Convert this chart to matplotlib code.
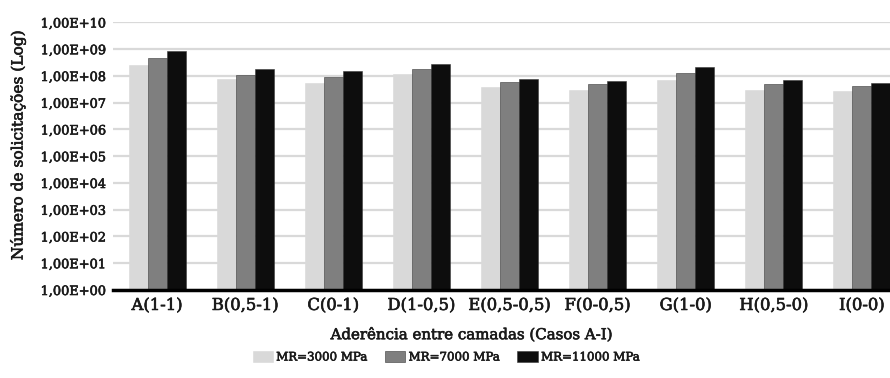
import numpy as np
import matplotlib.pyplot as plt
import matplotlib.patheffects as pe
from matplotlib.ticker import FixedLocator, FuncFormatter, NullLocator

plt.rcParams['font.family'] = ['DejaVu Serif']

# Cases of bond between layers and number of load repetitions for each modulus
casos = ['A(1-1)', 'B(0,5-1)', 'C(0-1)', 'D(1-0,5)', 'E(0,5-0,5)',
         'F(0-0,5)', 'G(1-0)', 'H(0,5-0)', 'I(0-0)']
mr3000 = [2.5e8, 7.6e7, 5.6e7, 1.18e8, 3.9e7, 2.9e7, 7.3e7, 2.9e7, 2.7e7]
mr7000 = [4.8e8, 1.08e8, 9.4e7, 1.9e8, 6.1e7, 5.1e7, 1.33e8, 5.1e7, 4.4e7]
mr11000 = [8.5e8, 1.8e8, 1.5e8, 2.9e8, 7.6e7, 6.5e7, 2.1e8, 7.3e7, 5.6e7]

series = [('MR=3000 MPa', mr3000, '#d9d9d9'),
          ('MR=7000 MPa', mr7000, '#7f7f7f'),
          ('MR=11000 MPa', mr11000, '#0d0d0d')]

# slightly heavier strokes for the text
grosso = [pe.withStroke(linewidth=0.45, foreground='#1a1a1a')]

fig = plt.figure(figsize=(8.9, 3.78), dpi=100)
ax = fig.add_axes([113/890, 0.2328, 0.891, 0.7077])

x = np.arange(len(casos))
w = 0.216
for k, (nome, vals, cor) in enumerate(series):
    ax.bar(x + (k - 1) * w, vals, w, color=cor, label=nome,
           edgecolor='#3a3a3a' if k else cor, linewidth=0.4, zorder=3)

ax.set_yscale('log')
ax.set_ylim(1, 1e10)
ax.set_xlim(-0.5, len(casos) - 0.5)
ax.yaxis.set_major_locator(FixedLocator([10.0**i for i in range(11)]))
ax.yaxis.set_minor_locator(NullLocator())
ax.yaxis.set_major_formatter(FuncFormatter(
    lambda v, p: '1,00E+%02d' % int(round(np.log10(v)))))
ax.tick_params(axis='y', length=0, pad=5, labelsize=9.3, labelcolor='#1a1a1a')
ax.set_xticks(x)
ax.set_xticklabels(casos, fontsize=11.8, color='#1a1a1a')
ax.tick_params(axis='x', length=0, pad=5)
for t in ax.get_xticklabels() + ax.get_yticklabels():
    t.set_path_effects(grosso)

ax.grid(axis='y', color='#d9d9d9', linewidth=1.6, zorder=0)
for s in ['top', 'right', 'left']:
    ax.spines[s].set_visible(False)
ax.spines['bottom'].set_linewidth(2.5)
ax.spines['bottom'].set_zorder(4)

fig.text(18/890, 1 - 146/378, 'Número de solicitações (Log)', fontsize=11.1,
         rotation=90, ha='center', va='center', color='#1a1a1a',
         path_effects=grosso)
fig.text(472/890, 1 - 335/378, 'Aderência entre camadas (Casos A-I)',
         fontsize=10.8, ha='center', va='center', color='#1a1a1a',
         path_effects=grosso)

leg = fig.legend(loc='center', bbox_to_anchor=(446/890, 1 - 357/378), ncol=3,
                 frameon=False, fontsize=8.5, handlelength=1.7,
                 handleheight=1.1, handletextpad=0.3, columnspacing=1.5)
for t in leg.get_texts():
    t.set_color('#1a1a1a')
    t.set_path_effects(grosso)

fig.savefig('out.png', dpi=100)
